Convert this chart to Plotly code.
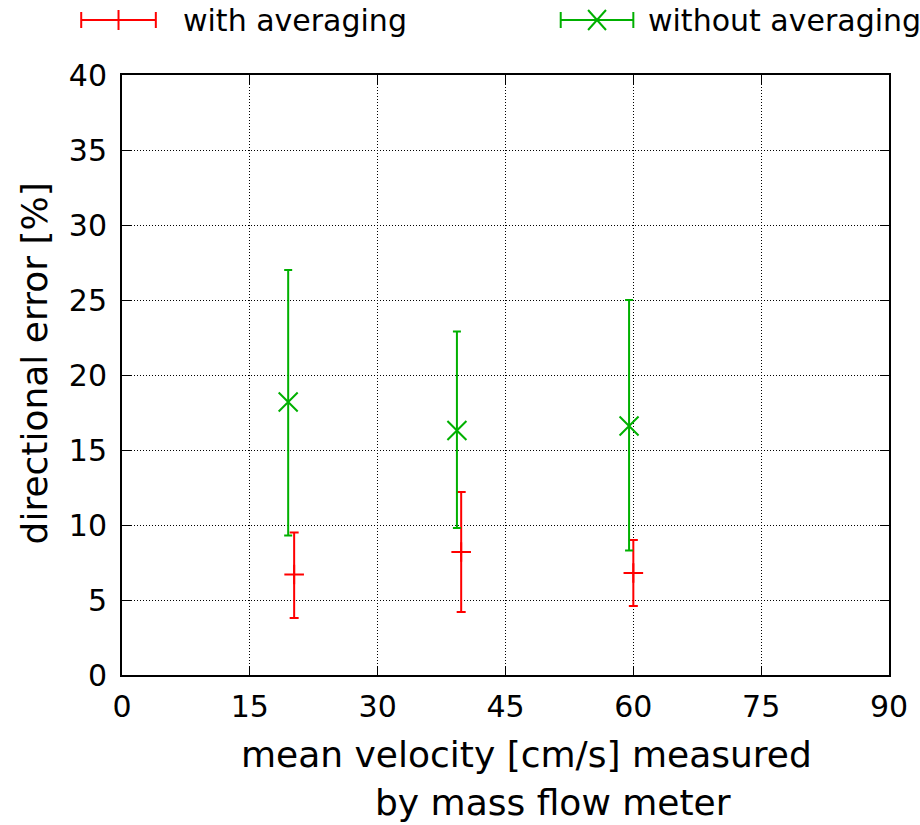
import plotly.graph_objects as go

# ---- data ----
velocity_with = [20.2, 39.8, 60.0]
error_with = [6.7, 8.2, 6.8]
error_with_hi = [9.5, 12.2, 9.0]
error_with_lo = [3.8, 4.2, 4.6]

velocity_without = [19.5, 39.3, 59.5]
error_without = [18.2, 16.3, 16.6]
error_without_hi = [27.0, 22.9, 25.0]
error_without_lo = [9.3, 9.8, 8.3]

x_ticks = [0, 15, 30, 45, 60, 75, 90]
y_ticks = [0, 5, 10, 15, 20, 25, 30, 35, 40]

series_names = ["with averaging", "without averaging"]
RED = "#ff0000"
GREEN = "#00b000"
FONT = "DejaVu Sans"

# ---- layout geometry (pixels) ----
W, H = 920, 825
L, R, T, B = 122, 893, 75, 675


def px(xp):
    return (xp - L) / (R - L)


def py(yp):
    return (B - yp) / (B - T)


fig = go.Figure()

fig.add_trace(go.Scatter(
    x=velocity_with, y=error_with, mode="markers", name=series_names[0],
    marker=dict(symbol="cross-thin-open", size=14, color=RED,
                line=dict(color=RED, width=2)),
    error_y=dict(type="data", symmetric=False,
                 array=[h - m for h, m in zip(error_with_hi, error_with)],
                 arrayminus=[m - lo for m, lo in zip(error_with, error_with_lo)],
                 color=RED, thickness=2, width=4.5),
    showlegend=False, cliponaxis=False,
))

fig.add_trace(go.Scatter(
    x=velocity_without, y=error_without, mode="markers", name=series_names[1],
    marker=dict(symbol="x-thin-open", size=19, color=GREEN,
                line=dict(color=GREEN, width=2)),
    error_y=dict(type="data", symmetric=False,
                 array=[h - m for h, m in zip(error_without_hi, error_without)],
                 arrayminus=[m - lo for m, lo in zip(error_without, error_without_lo)],
                 color=GREEN, thickness=2, width=4),
    showlegend=False, cliponaxis=False,
))

# ---- custom gnuplot-like key at top ----
shapes = []
annotations = []


def key(x0, x1, yc, color, marker, label, tx):
    ln = dict(color=color, width=2)
    shapes.append(dict(type="line", xref="paper", yref="paper",
                       x0=px(x0), x1=px(x1), y0=py(yc), y1=py(yc), line=ln))
    for xe in (x0, x1):
        shapes.append(dict(type="line", xref="paper", yref="paper",
                           x0=px(xe), x1=px(xe), y0=py(yc - 8), y1=py(yc + 8), line=ln))
    xm = (x0 + x1) / 2
    if marker == "+":
        shapes.append(dict(type="line", xref="paper", yref="paper",
                           x0=px(xm), x1=px(xm), y0=py(yc - 10), y1=py(yc + 10), line=ln))
    else:
        shapes.append(dict(type="line", xref="paper", yref="paper",
                           x0=px(xm - 9), x1=px(xm + 9), y0=py(yc - 10), y1=py(yc + 10), line=ln))
        shapes.append(dict(type="line", xref="paper", yref="paper",
                           x0=px(xm - 9), x1=px(xm + 9), y0=py(yc + 10), y1=py(yc - 10), line=ln))
    annotations.append(dict(text=label, xref="paper", yref="paper",
                            x=px(tx), y=py(yc), xanchor="left", yanchor="middle",
                            showarrow=False, font=dict(family=FONT, size=30, color="black")))


key(81, 156, 20, RED, "+", series_names[0], 181)
key(563, 636, 20, GREEN, "x", series_names[1], 649)

# axis titles
annotations.append(dict(text="mean velocity [cm/s] measured", xref="paper", yref="paper",
                        x=px(529), y=py(754), xanchor="center", yanchor="middle",
                        showarrow=False, font=dict(family=FONT, size=36, color="black")))
annotations.append(dict(text="by mass flow meter", xref="paper", yref="paper",
                        x=px(555), y=py(802), xanchor="center", yanchor="middle",
                        showarrow=False, font=dict(family=FONT, size=36, color="black")))
annotations.append(dict(text="directional error [%]", xref="paper", yref="paper",
                        x=px(34), y=py(363), xanchor="center", yanchor="middle",
                        textangle=-90,
                        showarrow=False, font=dict(family=FONT, size=36, color="black")))

axis_common = dict(
    showline=True, linecolor="black", linewidth=2, mirror="ticks",
    ticks="inside", ticklen=9, tickwidth=1, tickcolor="black",
    showgrid=True, gridcolor="black", gridwidth=1, griddash="1px,2px",
    zeroline=False,
    tickfont=dict(family=FONT, size=30, color="black"),
)

fig.update_xaxes(range=[0, 90], tickvals=x_ticks, ticktext=[str(v) for v in x_ticks],
                 ticklabelstandoff=4, **axis_common)
fig.update_yaxes(range=[0, 40], tickvals=y_ticks, ticktext=[str(v) for v in y_ticks],
                 ticklabelstandoff=7, **axis_common)

fig.update_layout(
    width=W, height=H,
    margin=dict(l=L, r=W - R, t=T, b=H - B, pad=0),
    plot_bgcolor="white", paper_bgcolor="white",
    showlegend=False,
    shapes=shapes, annotations=annotations,
    font=dict(family=FONT, color="black"),
)

fig.write_html("out.html")
